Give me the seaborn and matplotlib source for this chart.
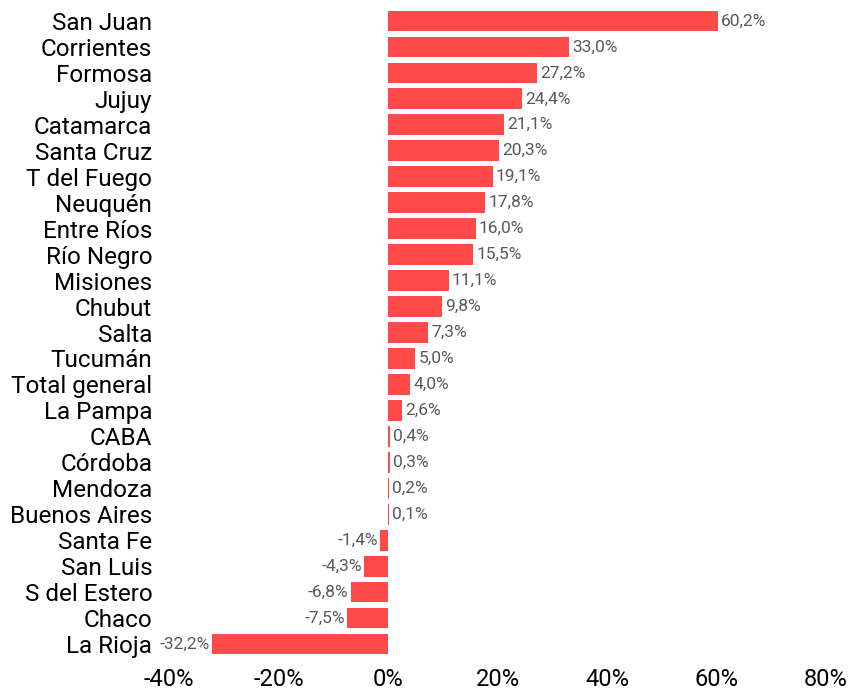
import matplotlib
matplotlib.use("Agg")
import matplotlib.pyplot as plt
import seaborn as sns
import pandas as pd

# data
provincias = ["San Juan", "Corrientes", "Formosa", "Jujuy", "Catamarca", "Santa Cruz",
              "T del Fuego", "Neuquén", "Entre Ríos", "Río Negro", "Misiones", "Chubut",
              "Salta", "Tucumán", "Total general", "La Pampa", "CABA", "Córdoba", "Mendoza",
              "Buenos Aires", "Santa Fe", "San Luis", "S del Estero", "Chaco", "La Rioja"]
variacion = [60.2, 33.0, 27.2, 24.4, 21.1, 20.3, 19.1, 17.8, 16.0, 15.5, 11.1, 9.8,
             7.3, 5.0, 4.0, 2.6, 0.4, 0.3, 0.2, 0.1, -1.4, -4.3, -6.8, -7.5, -32.2]
x_ticks = [-40, -20, 0, 20, 40, 60, 80]

df = pd.DataFrame({"provincia": provincias, "variacion": variacion})

sns.set_theme(style="white")
plt.rcParams["font.family"] = ["Roboto", "DejaVu Sans"]

fig = plt.figure(figsize=(8.5, 6.9), dpi=100)
ax = fig.add_axes([169 / 850, 1 - 657 / 690, (826 - 169) / 850, (657 - 8) / 690])

sns.barplot(data=df, x="variacion", y="provincia", color="#ff4a4a", saturation=1,
            width=0.8, orient="h", linewidth=0, ax=ax)

# value labels, comma decimal like the original
for i, v in enumerate(variacion):
    txt = f"{v:.1f}%".replace(".", ",")
    if v >= 0:
        ax.text(v + 0.6, i, txt, va="center", ha="left", fontsize=12.5, color="#595959")
    else:
        ax.text(v - 0.4, i, txt, va="center", ha="right", fontsize=12.5, color="#595959")

ax.set_xlim(-40, 80)
ax.set_ylim(len(provincias) - 0.5, -0.5)
ax.set_xticks(x_ticks)
ax.set_xticklabels([f"{t}%" for t in x_ticks], fontsize=17, color="black")
ax.tick_params(axis="y", labelsize=17.5, labelcolor="black", length=0, pad=12)
ax.tick_params(axis="x", length=0, pad=8)
ax.set_xlabel("")
ax.set_ylabel("")
sns.despine(ax=ax, left=True, bottom=True)

fig.savefig("out.png", dpi=100)
